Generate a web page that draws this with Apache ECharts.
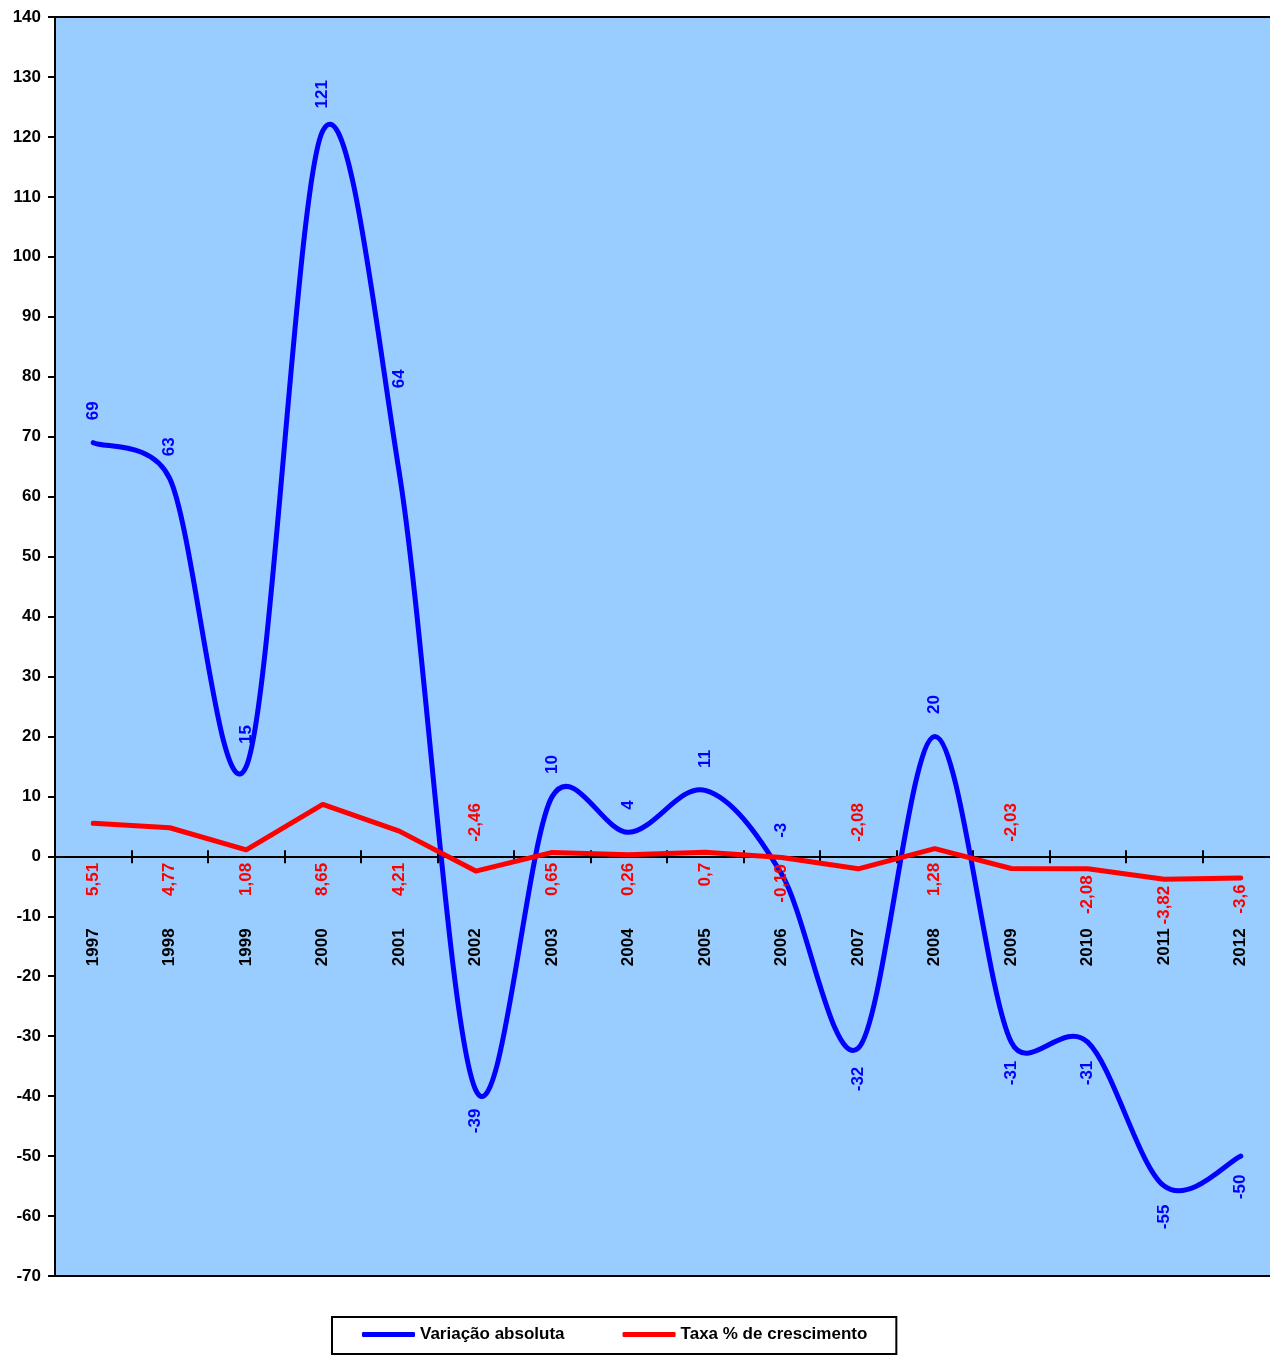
<!DOCTYPE html>
<html>
<head>
<meta charset="utf-8">
<title>Variação absoluta e taxa de crescimento 1997-2012</title>
<script src="https://cdn.jsdelivr.net/npm/echarts@6/dist/echarts.min.js"></script>
<style>
  html, body { margin: 0; padding: 0; background: #ffffff; }
  #chart { width: 1270px; height: 1355px; }
</style>
</head>
<body>
<div id="chart"></div>
<script>
// Anos (eixo das categorias)
const years = ['1997', '1998', '1999', '2000', '2001', '2002', '2003', '2004',
               '2005', '2006', '2007', '2008', '2009', '2010', '2011', '2012'];

// Variação absoluta
const absoluteChange = [69, 63, 15, 121, 64, -39, 10, 4, 11, -3, -32, 20, -31, -31, -55, -50];

// Taxa % de crescimento
const growthRate = [5.51, 4.77, 1.08, 8.65, 4.21, -2.46, 0.65, 0.26, 0.7, -0.19,
                    -2.08, 1.28, -2.03, -2.08, -3.82, -3.6];

// Escala do eixo vertical
const yMin = -70;
const yMax = 140;
const yStep = 10;

// Anos cujo rótulo fica acima da linha
const absoluteLabelsAbove = ['1997', '1998', '1999', '2000', '2001', '2003', '2004', '2005', '2006', '2008'];
const rateLabelsAbove = ['2002', '2007', '2009'];
// Afastamento extra (px) de rótulos que ficariam sobre a curva
const absoluteLabelExtraGap = { '2001': 62, '2006': 14 };

const FONT = "'Liberation Sans', Arial, Helvetica, sans-serif";
const BLUE = '#0000FF';
const RED = '#FF0000';

const fmtComma = v => String(v).replace('.', ',');

const chart = echarts.init(document.getElementById('chart'), null, { renderer: 'canvas' });

const baseLabel = {
  show: true,
  rotate: 90,
  fontFamily: FONT,
  fontWeight: 'bold',
  fontSize: 17,
  verticalAlign: 'middle'
};

// Braço de controle de Bézier limitado a metade do segmento adjacente
function arm(p, v, sign, segLen) {
  let ax = v[0] / 6, ay = v[1] / 6;
  const len = Math.hypot(ax, ay);
  const lim = segLen / 2;
  if (len > lim && len > 0) { ax *= lim / len; ay *= lim / len; }
  return [p[0] + sign * ax, p[1] + sign * ay];
}

// Curva suavizada que passa por todos os pontos da série
function renderSmoothCurve(params, api) {
  if (params.dataIndex !== 0) return null;
  const pts = absoluteChange.map((v, i) => api.coord([i, v]));
  const n = pts.length;
  let d = 'M' + pts[0][0] + ' ' + pts[0][1];
  for (let i = 0; i < n - 1; i++) {
    const p0 = pts[Math.max(0, i - 1)];
    const p1 = pts[i];
    const p2 = pts[i + 1];
    const p3 = pts[Math.min(n - 1, i + 2)];
    const seg = Math.hypot(p2[0] - p1[0], p2[1] - p1[1]);
    const c1 = arm(p1, [p2[0] - p0[0], p2[1] - p0[1]], 1, seg);
    const c2 = arm(p2, [p3[0] - p1[0], p3[1] - p1[1]], -1, seg);
    d += ' C' + c1[0] + ' ' + c1[1] + ' ' + c2[0] + ' ' + c2[1] + ' ' + p2[0] + ' ' + p2[1];
  }
  return {
    type: 'path',
    shape: { pathData: d },
    style: { stroke: BLUE, lineWidth: 5, fill: null, lineCap: 'round', lineJoin: 'round' },
    silent: true
  };
}

function buildOption(blueItems, redItems, bottomOffset, topOffset) {
  return {
    animation: false,
    backgroundColor: '#ffffff',
    grid: {
      left: 55,
      top: 17,
      right: -9,
      bottom: 79,
      containLabel: false,
      outerBoundsMode: 'none',
      show: true,
      backgroundColor: '#99CCFF',
      borderColor: '#000000',
      borderWidth: 2
    },
    legend: {
      left: 332,
      top: 1317,
      orient: 'horizontal',
      padding: [9, 29, 11, 30],
      itemGap: 58,
      itemWidth: 53,
      itemHeight: 5,
      icon: 'roundRect',
      borderColor: '#000000',
      borderWidth: 2,
      backgroundColor: '#ffffff',
      textStyle: {
        fontFamily: FONT,
        fontWeight: 'bold',
        fontSize: 17,
        color: '#000000'
      },
      data: ['Variação absoluta', 'Taxa % de crescimento']
    },
    xAxis: [
      {
        type: 'category',
        data: years,
        position: 'bottom',
        offset: bottomOffset,
        boundaryGap: true,
        axisLine: { show: true, onZero: false, lineStyle: { color: '#000000', width: 2 } },
        axisTick: { show: true, inside: false, length: 7, lineStyle: { color: '#000000', width: 2 } },
        axisLabel: {
          show: true,
          interval: 0,
          rotate: 90,
          margin: 72,
          color: '#000000',
          fontFamily: FONT,
          fontWeight: 'bold',
          fontSize: 17
        },
        splitLine: { show: false }
      },
      {
        type: 'category',
        data: years,
        position: 'top',
        offset: topOffset,
        boundaryGap: true,
        axisLine: { show: false, onZero: false },
        axisTick: { show: true, inside: false, length: 6, lineStyle: { color: '#000000', width: 2 } },
        axisLabel: { show: false },
        splitLine: { show: false }
      }
    ],
    yAxis: {
      type: 'value',
      min: yMin,
      max: yMax,
      interval: yStep,
      axisLine: { show: true, onZero: false, lineStyle: { color: '#000000', width: 2 } },
      axisTick: { show: true, inside: false, length: 7, lineStyle: { color: '#000000', width: 2 } },
      axisLabel: {
        margin: 14,
        color: '#000000',
        fontFamily: FONT,
        fontWeight: 'bold',
        fontSize: 17
      },
      splitLine: { show: false }
    },
    series: [
      {
        name: 'Variação absoluta',
        type: 'line',
        xAxisIndex: 0,
        symbol: 'circle',
        symbolSize: 1,
        itemStyle: { color: BLUE, borderColor: 'transparent', borderWidth: 0 },
        lineStyle: { color: BLUE, width: 5, opacity: 0 },
        label: Object.assign({}, baseLabel, { color: BLUE, formatter: p => String(p.value) }),
        emphasis: { disabled: true },
        z: 3,
        data: blueItems
      },
      {
        name: 'Variação absoluta (curva)',
        type: 'custom',
        xAxisIndex: 0,
        renderItem: renderSmoothCurve,
        z: 3,
        data: absoluteChange
      },
      {
        name: 'Taxa % de crescimento',
        type: 'line',
        xAxisIndex: 0,
        smooth: false,
        symbol: 'circle',
        symbolSize: 1,
        itemStyle: { color: RED, borderColor: 'transparent', borderWidth: 0 },
        lineStyle: { color: RED, width: 5, cap: 'round', join: 'round' },
        label: Object.assign({}, baseLabel, { color: RED, formatter: p => fmtComma(p.value) }),
        emphasis: { disabled: true },
        z: 4,
        data: redItems
      }
    ]
  };
}

// Primeira passagem: escala do eixo para posicionar rótulos e o eixo das categorias na linha do zero
chart.setOption(buildOption(absoluteChange, growthRate, 0, 0));
const zeroY = chart.convertToPixel({ yAxisIndex: 0 }, 0);
const unit = zeroY - chart.convertToPixel({ yAxisIndex: 0 }, 1);
const bottomY = chart.convertToPixel({ yAxisIndex: 0 }, yMin);
const topY = chart.convertToPixel({ yAxisIndex: 0 }, yMax);

const blueItems = absoluteChange.map((v, i) => {
  const above = absoluteLabelsAbove.includes(years[i]);
  const extra = absoluteLabelExtraGap[years[i]] || 0;
  return {
    value: v,
    label: above
      ? { position: 'top', align: 'left', distance: 22 + extra }
      : { position: 'bottom', align: 'right', distance: 18 + extra }
  };
});

const redItems = growthRate.map((v, i) => {
  const py = zeroY - v * unit;
  const above = rateLabelsAbove.includes(years[i]);
  return {
    value: v,
    label: above
      ? { position: 'top', align: 'left', distance: Math.max(4, (py - zeroY) + 14) }
      : { position: 'bottom', align: 'right', distance: Math.max(0, zeroY - py) + 6 }
  };
});

chart.setOption(buildOption(blueItems, redItems, -(bottomY - zeroY), -(zeroY - topY)), true);
</script>
</body>
</html>
